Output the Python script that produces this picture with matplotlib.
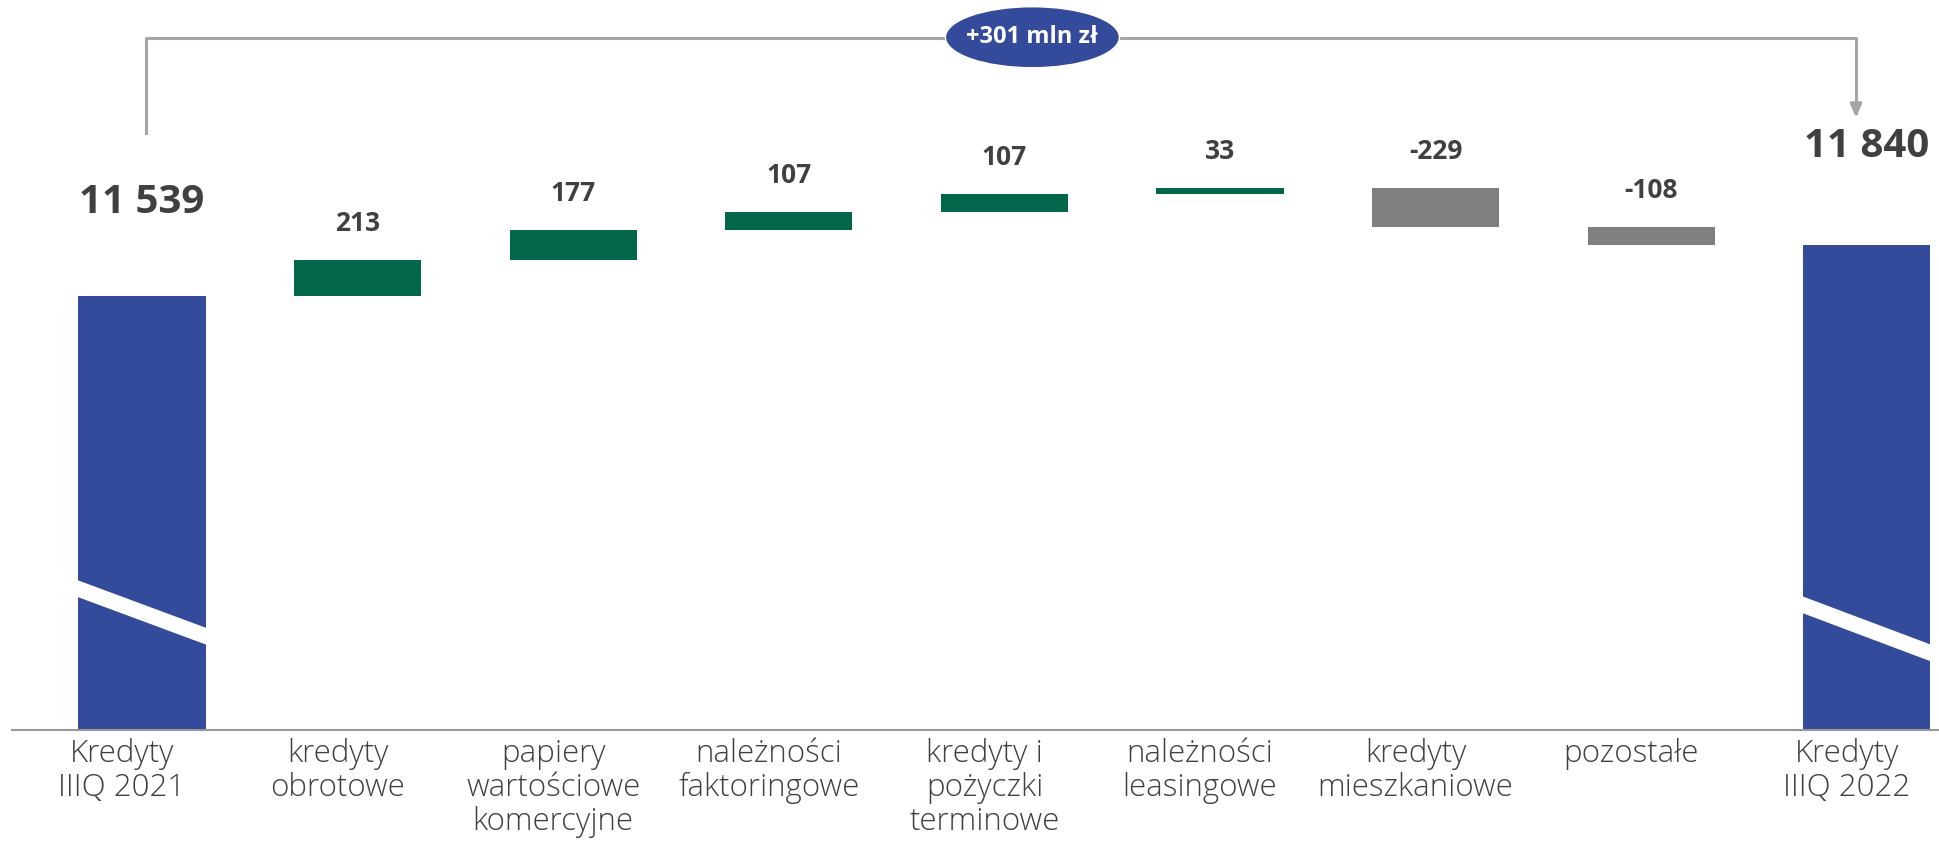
import matplotlib.pyplot as plt
from matplotlib.patches import Ellipse, Polygon
from matplotlib.transforms import ScaledTranslation

# data
categories = ["Kredyty\nIIIQ 2021", "kredyty\nobrotowe", "papiery\nwartościowe\nkomercyjne",
              "należności\nfaktoringowe", "kredyty i\npożyczki\nterminowe", "należności\nleasingowe",
              "kredyty\nmieszkaniowe", "pozostałe", "Kredyty\nIIIQ 2022"]
start_value = 11539
end_value = 11840
changes = [213, 177, 107, 107, 33, -229, -108]
total_label = "+301 mln zł"

BLUE = "#344a9a"
GREEN = "#02674a"
GREY = "#7f7f7f"
TEXT = "#404040"
LINE = "#a6a6a6"

plt.rcParams["font.family"] = ["Open Sans", "DejaVu Sans"]

fig = plt.figure(figsize=(19.39, 8.49), dpi=100)
ax = fig.add_axes([12 / 1939, 119 / 849, 1 - 12 / 1939, 730 / 849])

n = len(categories)
xs = list(range(n))
width = 0.59

# totals
ax.bar(0, start_value, width, color=BLUE, zorder=2)
ax.bar(n - 1, end_value, width, color=BLUE, zorder=2)

# steps
level = start_value
tops = [start_value]
for i, ch in enumerate(changes, start=1):
    bottom = level if ch > 0 else level + ch
    ax.bar(i, abs(ch), width, bottom=bottom, color=GREEN if ch > 0 else GREY, zorder=2)
    tops.append(level + max(ch, 0))
    level += ch
tops.append(end_value)

ax.set_xlim(-0.603, 8.335)
ax.set_ylim(8977, 8977 + 730 / 0.1694)

# value labels
for i, ch in enumerate(changes, start=1):
    ax.annotate(f"{ch}", (i, tops[i]), xytext=(0, 26), textcoords="offset points",
                ha="center", va="center", fontsize=19, fontweight="bold", color=TEXT)
ax.annotate(f"{start_value:,}".replace(",", " "), (0, start_value), xytext=(0, 67),
            textcoords="offset points", ha="center", va="center",
            fontsize=29, fontweight="bold", color=TEXT)
ax.annotate(f"{end_value:,}".replace(",", " "), (n - 1, end_value), xytext=(0, 71),
            textcoords="offset points", ha="center", va="center",
            fontsize=29, fontweight="bold", color=TEXT)

# axis break marks on the total bars
trans = ax.get_xaxis_transform()
for x, y_left, y_right in [(0, 0.207, 0.138), (n - 1, 0.185, 0.115)]:
    t = 0.023
    x0, x1 = x - width / 2 - 0.02, x + width / 2 + 0.02
    ax.add_patch(Polygon([(x0, y_left), (x1, y_right), (x1, y_right - t), (x0, y_left - t)],
                         closed=True, transform=trans, color="white", zorder=3, lw=0))

# bracket with total change
yb = 0.948
ax.plot([0.02, 0.02, n - 1 - 0.05, n - 1 - 0.05], [0.818, yb, yb, 0.845],
        transform=trans, color=LINE, lw=2.2, clip_on=False, zorder=1)
ax.annotate("", xy=(n - 1 - 0.05, 0.835), xytext=(n - 1 - 0.05, 0.86),
            xycoords=trans, textcoords=trans,
            arrowprops=dict(arrowstyle="-|>,head_width=0.35,head_length=0.8",
                            color=LINE, lw=2.2))
ax.add_patch(Ellipse((4.13, 0.949), 0.807, 0.0836, transform=trans,
                     facecolor=BLUE, edgecolor="white", lw=1, zorder=4))
ax.text(4.13, 0.949, total_label, transform=trans, ha="center", va="center",
        fontsize=17, fontweight="bold", color="white", zorder=5)

# axes styling
for s in ["top", "right", "left"]:
    ax.spines[s].set_visible(False)
ax.spines["bottom"].set_color("#999999")
ax.spines["bottom"].set_linewidth(1.5)
ax.set_yticks([])
ax.set_xticks(xs)
ax.set_xticklabels(categories, fontsize=22.5, color=TEXT, linespacing=1.08)
ax.tick_params(axis="x", length=0, pad=6)
shift = ScaledTranslation(-0.2, 0, fig.dpi_scale_trans)
for lab in ax.get_xticklabels():
    lab.set_fontweight("light")
    lab.set_transform(lab.get_transform() + shift)

fig.savefig("out.png", dpi=100)
